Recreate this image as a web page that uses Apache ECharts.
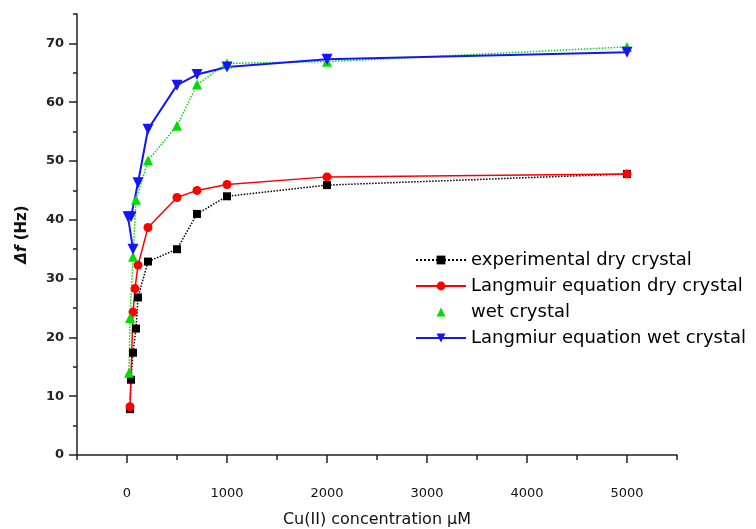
<!DOCTYPE html>
<html>
<head>
<meta charset="utf-8">
<script src="https://cdn.jsdelivr.net/npm/echarts@6/dist/echarts.min.js"></script>
<style>
    html, body { margin: 0; padding: 0; background: #fff; }
    #chart { width: 756px; height: 529px; }
</style>
</head>
<body>
<div id="chart"></div>
<script>
// 实验数据 (dry crystal)
var expDryX = [30, 40, 60, 90, 110, 210, 500, 700, 1000, 2000, 5000];
var expDryY = [7.8, 12.8, 17.4, 21.5, 26.8, 32.9, 35, 41, 44, 45.9, 47.8];
// Langmuir 拟合 (dry)
var lgDryX = [30, 60, 80, 110, 210, 500, 700, 1000, 2000, 5000];
var lgDryY = [8.2, 24.3, 28.3, 32.3, 38.7, 43.8, 45, 46, 47.3, 47.8];
// wet crystal
var wetX = [20, 30, 60, 90, 210, 500, 700, 1000, 2000, 5000];
var wetY = [14, 23.3, 33.7, 43.4, 50.1, 56, 63, 66.6, 66.9, 69.4];
// Langmuir 拟合 (wet)
var lgWetX = [60, 10, 40, 110, 210, 500, 700, 1000, 2000, 5000];
var lgWetY = [35, 40.5, 40.5, 46.3, 55.4, 62.9, 64.7, 66, 67.3, 68.5];

var names = ['experimental dry crystal', 'Langmuir equation dry crystal', 'wet crystal', 'Langmiur equation wet crystal'];
var xTicks = [0, 1000, 2000, 3000, 4000, 5000];
var xMinor = [-500, 500, 1500, 2500, 3500, 4500, 5500];
var yTicks = [0, 10, 20, 30, 40, 50, 60, 70];
var yMinor = [5, 15, 25, 35, 45, 55, 65, 75];

function pairs(xs, ys) {
    return xs.map(function (x, i) { return [x, ys[i]]; });
}

var axisColor = '#222';

var option = {
    animation: false,
    backgroundColor: '#fff',
    grid: { left: 77, right: 79, top: 14, bottom: 74, outerBoundsMode: 'none', containLabel: false },
    legend: {
        orient: 'vertical',
        left: 415,
        top: 250,
        padding: 0,
        itemWidth: 50,
        itemHeight: 11,
        itemGap: 6,
        textStyle: { fontFamily: 'DejaVu Sans', fontSize: 18, color: '#000', lineHeight: 20 },
        data: [
            { name: names[0] },
            { name: names[1] },
            { name: names[2], lineStyle: { opacity: 0 } },
            { name: names[3] }
        ]
    },
    xAxis: [{
        type: 'value',
        min: -500,
        max: 5500,
        position: 'bottom',
        name: 'Cu(II) concentration μM',
        nameLocation: 'middle',
        nameGap: 57,
        nameTextStyle: { fontFamily: 'DejaVu Sans', fontSize: 16, color: '#111' },
        axisLine: { onZero: false, lineStyle: { color: axisColor, width: 1.5 } },
        axisTick: { customValues: xTicks, length: 8, lineStyle: { color: axisColor, width: 1.5 } },
        axisLabel: {
            customValues: xTicks, margin: 32, fontFamily: 'DejaVu Sans', fontSize: 13, color: '#111',
            formatter: function (v) { return String(v); }
        },
        splitLine: { show: false }
    }, {
        // 次刻度
        type: 'value',
        min: -500,
        max: 5500,
        position: 'bottom',
        axisLine: { show: false, onZero: false },
        axisTick: { customValues: xMinor, length: 5, lineStyle: { color: axisColor, width: 1.5 } },
        axisLabel: { show: false },
        splitLine: { show: false }
    }],
    yAxis: [{
        type: 'value',
        min: 0,
        max: 75,
        position: 'left',
        name: '{a|Δf} (Hz)',
        nameLocation: 'middle',
        nameGap: 47,
        nameTextStyle: {
            fontFamily: 'DejaVu Sans', fontSize: 15, fontWeight: 'bold', color: '#111',
            rich: { a: { fontFamily: 'DejaVu Sans', fontSize: 15, fontWeight: 'bold', fontStyle: 'italic', color: '#111' } }
        },
        axisLine: { show: true, onZero: false, lineStyle: { color: axisColor, width: 1.5 } },
        axisTick: { show: true, customValues: yTicks, length: 8, lineStyle: { color: axisColor, width: 1.5 } },
        axisLabel: { customValues: yTicks, margin: 13, fontFamily: 'DejaVu Sans', fontSize: 13, fontWeight: 'bold', color: '#222' },
        splitLine: { show: false }
    }, {
        type: 'value',
        min: 0,
        max: 75,
        position: 'left',
        axisLine: { show: false, onZero: false },
        axisTick: { show: true, customValues: yMinor, length: 4, lineStyle: { color: axisColor, width: 1.5 } },
        axisLabel: { show: false },
        splitLine: { show: false }
    }],
    series: [
        {
            name: names[0],
            type: 'line',
            data: pairs(expDryX, expDryY),
            symbol: 'rect',
            symbolSize: 8,
            itemStyle: { color: '#000' },
            lineStyle: { color: '#000', width: 1.5, type: 'dotted' }
        },
        {
            name: names[1],
            type: 'line',
            data: pairs(lgDryX, lgDryY),
            symbol: 'circle',
            symbolSize: 9,
            itemStyle: { color: '#ff0000' },
            lineStyle: { color: '#ff0000', width: 1.5 }
        },
        {
            name: names[2],
            type: 'line',
            data: pairs(wetX, wetY),
            symbol: 'triangle',
            symbolSize: 10,
            itemStyle: { color: '#00dd00' },
            lineStyle: { color: '#00dd00', width: 1.5, type: 'dotted' }
        },
        {
            name: names[3],
            type: 'line',
            data: pairs(lgWetX, lgWetY),
            symbol: 'triangle',
            symbolRotate: 180,
            symbolSize: 11,
            itemStyle: { color: '#1414ff' },
            lineStyle: { color: '#1414ff', width: 2 }
        }
    ]
};

var myChart = echarts.init(document.getElementById('chart'));
myChart.setOption(option);
window.onresize = myChart.resize;
</script>
</body>
</html>
